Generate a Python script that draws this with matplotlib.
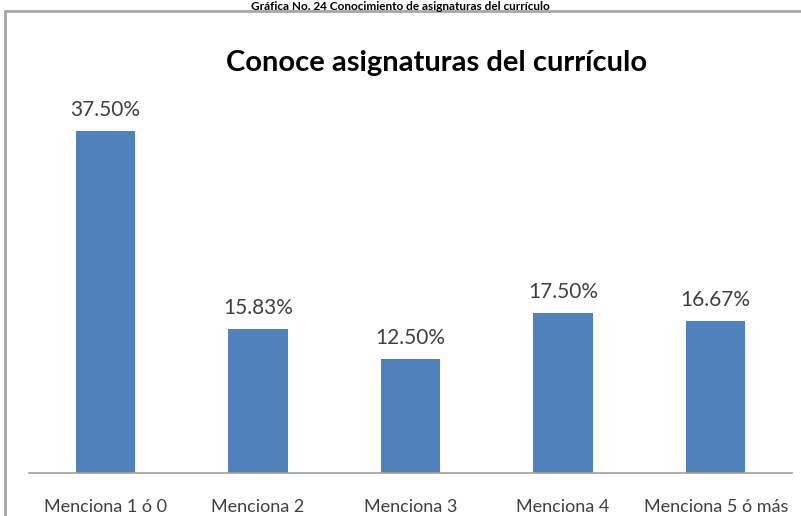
import matplotlib
matplotlib.use("Agg")
import matplotlib.pyplot as plt
from matplotlib.patches import Rectangle

categories = ["Menciona 1 ó 0", "Menciona 2", "Menciona 3", "Menciona 4", "Menciona 5 ó más"]
values = [37.50, 15.83, 12.50, 17.50, 16.67]
value_labels = ["37.50%", "15.83%", "12.50%", "17.50%", "16.67%"]
chart_title = "Conoce asignaturas del currículo"
outer_title = "Gráfica No. 24 Conocimiento de asignaturas del currículo"

W, H = 801, 516
fig = plt.figure(figsize=(W / 100, H / 100), dpi=100)
fig.patch.set_facecolor("white")

# outer frame
fig.patches.append(Rectangle((5 / W, -0.01), 1.0, (H - 11) / H + 0.01, transform=fig.transFigure,
                             facecolor="white", edgecolor="#a6a6a6", linewidth=2.0, zorder=0))

fam = ["Lato", "DejaVu Sans"]
fig.text(400 / W, 1 - 1 / H, outer_title, ha="center", va="top",
         fontsize=8.5, fontweight="bold", family=fam, color="black")

base_y = 473
ymax = 40.0
px_per = (base_y - 131) / 37.5
top_y = base_y - ymax * px_per
ax = fig.add_axes([29 / W, (H - base_y) / H, (792 - 29) / W, (base_y - top_y) / H])
ax.set_zorder(2)
ax.set_facecolor("none")
x = list(range(len(categories)))
ax.bar(x, values, width=0.39, color="#4F81BD", zorder=2)
ax.set_xlim(-0.5, len(categories) - 0.5)
ax.set_ylim(0, ymax)
for xi, v, lab in zip(x, values, value_labels):
    ax.annotate(lab, (xi, v), xytext=(0, 8), textcoords="offset points", ha="center",
                va="bottom", fontsize=15, family=fam, color="#404040")
for s in ["top", "right", "left"]:
    ax.spines[s].set_visible(False)
ax.spines["bottom"].set_color("#a0a0a0")
ax.spines["bottom"].set_linewidth(1.2)
ax.set_yticks([])
ax.set_xticks(x)
ax.set_xticklabels(categories, fontsize=13, family=fam, color="#404040")
ax.tick_params(axis="x", length=0, pad=19)

fig.text(437 / W, 1 - 63 / H, chart_title, ha="center", va="center",
         fontsize=21, fontweight="bold", family=fam, color="black", zorder=3)

fig.savefig("out.png", dpi=100, facecolor="white")
